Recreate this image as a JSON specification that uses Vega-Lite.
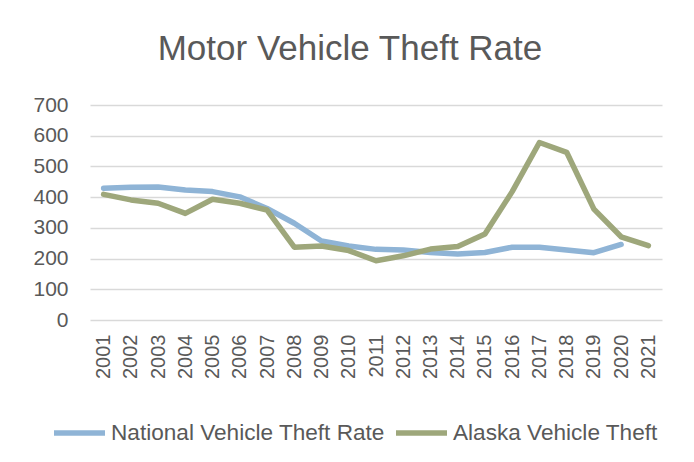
{
  "$schema": "https://vega.github.io/schema/vega-lite/v6.json",
  "autosize": "none",
  "width": 572,
  "height": 215,
  "padding": {"left": 90, "top": 105, "right": 32, "bottom": 142},
  "background": "white",
  "title": {
    "text": "Motor Vehicle Theft Rate",
    "font": "Liberation Sans",
    "fontSize": 35,
    "fontWeight": "normal",
    "color": "#595959",
    "anchor": "middle",
    "dx": -26,
    "offset": 27
  },
  "data": {
    "values": [
      {"year": "2001", "series": "National Vehicle Theft Rate", "value": 429},
      {"year": "2002", "series": "National Vehicle Theft Rate", "value": 432},
      {"year": "2003", "series": "National Vehicle Theft Rate", "value": 433},
      {"year": "2004", "series": "National Vehicle Theft Rate", "value": 423},
      {"year": "2005", "series": "National Vehicle Theft Rate", "value": 418},
      {"year": "2006", "series": "National Vehicle Theft Rate", "value": 401},
      {"year": "2007", "series": "National Vehicle Theft Rate", "value": 363},
      {"year": "2008", "series": "National Vehicle Theft Rate", "value": 315},
      {"year": "2009", "series": "National Vehicle Theft Rate", "value": 257},
      {"year": "2010", "series": "National Vehicle Theft Rate", "value": 241},
      {"year": "2011", "series": "National Vehicle Theft Rate", "value": 230},
      {"year": "2012", "series": "National Vehicle Theft Rate", "value": 228},
      {"year": "2013", "series": "National Vehicle Theft Rate", "value": 220},
      {"year": "2014", "series": "National Vehicle Theft Rate", "value": 215},
      {"year": "2015", "series": "National Vehicle Theft Rate", "value": 220},
      {"year": "2016", "series": "National Vehicle Theft Rate", "value": 237},
      {"year": "2017", "series": "National Vehicle Theft Rate", "value": 237},
      {"year": "2018", "series": "National Vehicle Theft Rate", "value": 228},
      {"year": "2019", "series": "National Vehicle Theft Rate", "value": 219},
      {"year": "2020", "series": "National Vehicle Theft Rate", "value": 246},
      {"year": "2001", "series": "Alaska Vehicle Theft", "value": 409},
      {"year": "2002", "series": "Alaska Vehicle Theft", "value": 391},
      {"year": "2003", "series": "Alaska Vehicle Theft", "value": 380},
      {"year": "2004", "series": "Alaska Vehicle Theft", "value": 347},
      {"year": "2005", "series": "Alaska Vehicle Theft", "value": 393},
      {"year": "2006", "series": "Alaska Vehicle Theft", "value": 380},
      {"year": "2007", "series": "Alaska Vehicle Theft", "value": 358},
      {"year": "2008", "series": "Alaska Vehicle Theft", "value": 237},
      {"year": "2009", "series": "Alaska Vehicle Theft", "value": 241},
      {"year": "2010", "series": "Alaska Vehicle Theft", "value": 226},
      {"year": "2011", "series": "Alaska Vehicle Theft", "value": 193},
      {"year": "2012", "series": "Alaska Vehicle Theft", "value": 209},
      {"year": "2013", "series": "Alaska Vehicle Theft", "value": 231},
      {"year": "2014", "series": "Alaska Vehicle Theft", "value": 239},
      {"year": "2015", "series": "Alaska Vehicle Theft", "value": 280},
      {"year": "2016", "series": "Alaska Vehicle Theft", "value": 418},
      {"year": "2017", "series": "Alaska Vehicle Theft", "value": 578},
      {"year": "2018", "series": "Alaska Vehicle Theft", "value": 546},
      {"year": "2019", "series": "Alaska Vehicle Theft", "value": 361},
      {"year": "2020", "series": "Alaska Vehicle Theft", "value": 271},
      {"year": "2021", "series": "Alaska Vehicle Theft", "value": 242}
    ]
  },
  "mark": {"type": "line", "strokeWidth": 5.5, "strokeCap": "round", "strokeJoin": "round"},
  "encoding": {
    "x": {
      "field": "year",
      "type": "ordinal",
      "scale": {"type": "point", "padding": 0.5},
      "axis": {
        "title": null,
        "labelAngle": -90,
        "labelFont": "Liberation Sans",
        "labelFontSize": 20,
        "labelColor": "#595959",
        "labelPadding": 14,
        "ticks": false,
        "domain": false,
        "grid": false
      }
    },
    "y": {
      "field": "value",
      "type": "quantitative",
      "scale": {"domain": [0, 700]},
      "axis": {
        "title": null,
        "values": [0, 100, 200, 300, 400, 500, 600, 700],
        "labelFont": "Liberation Sans",
        "labelFontSize": 21,
        "labelColor": "#595959",
        "labelPadding": 22,
        "ticks": false,
        "domain": false,
        "gridColor": "#d9d9d9",
        "gridWidth": 1.5
      }
    },
    "color": {
      "field": "series",
      "type": "nominal",
      "scale": {
        "domain": ["National Vehicle Theft Rate", "Alaska Vehicle Theft"],
        "range": ["#8FB4D6", "#9EA77B"]
      },
      "legend": {
        "title": null,
        "orient": "none",
        "direction": "horizontal",
        "legendX": -39,
        "legendY": 299,
        "symbolType": "stroke",
        "symbolSize": 2601,
        "symbolStrokeWidth": 5.5,
        "labelFont": "Liberation Sans",
        "labelFontSize": 22.6,
        "labelColor": "#595959",
        "labelOffset": 3,
        "columnPadding": 0,
        "labelLimit": 400
      }
    }
  },
  "config": {
    "view": {"stroke": null}
  }
}
